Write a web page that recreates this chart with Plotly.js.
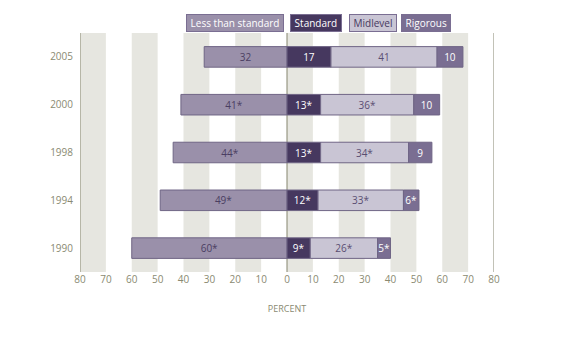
<!DOCTYPE html>
<html><head><meta charset="utf-8">
<script src="https://cdn.plot.ly/plotly-3.0.1.min.js"></script>
<style>html,body{margin:0;padding:0;background:#fff}#c{width:564px;height:339px}</style>
</head><body><div id="c"></div>
<script>
const years = ["1990","1994","1998","2000","2005"];
const lessVals = [60,49,44,41,32];
const lessLabels = ["60*","49*","44*","41*","32"];
const stdVals = [9,12,13,13,17];
const stdLabels = ["9*","12*","13*","13*","17"];
const midVals = [26,33,34,36,41];
const midLabels = ["26*","33*","34*","36*","41"];
const rigVals = [5,6,9,10,10];
const rigLabels = ["5*","6*","9","10","10"];
const tickVals = [-80,-70,-60,-50,-40,-30,-20,-10,0,10,20,30,40,50,60,70,80];
const tickText = ["80","70","60","50","40","30","20","10","0","10","20","30","40","50","60","70","80"];
const stripes = [[-80,-70],[-60,-50],[-40,-30],[-20,-10],[0,10],[20,30],[40,50],[60,70]];
const vLines = [-80,0,80];
const legendItems = [
  {name:"Less than standard", x:0.374, bg:"#9a90aa", fg:"#ffffff"},
  {name:"Standard", x:0.570, bg:"#46385f", fg:"#ffffff"},
  {name:"Midlevel", x:0.708, bg:"#c9c5d4", fg:"#46385f"},
  {name:"Rigorous", x:0.836, bg:"#7a6e92", fg:"#ffffff"}
];

const FONT = "Open Sans, Lato, sans-serif";
const lineC = "#6f6585";
function tr(vals, labels, color, tcolor, neg){
  return {type:"bar", orientation:"h", y:years, x: neg ? vals.map(v=>-v) : vals,
    text:labels, textposition:"inside", insidetextanchor:"middle",
    textfont:{family:FONT, size:10, color:tcolor},
    marker:{color:color, line:{color:lineC, width:1}},
    hoverinfo:"none", showlegend:false};
}
const data = [
  tr(lessVals, lessLabels, "#9a90aa", "#4a3e62", true),
  tr(stdVals, stdLabels, "#46385f", "#ffffff", false),
  tr(midVals, midLabels, "#c9c5d4", "#5a4e72", false),
  tr(rigVals, rigLabels, "#7a6e92", "#ffffff", false)
];
const shapes = stripes.map(s=>({type:"rect", xref:"x", yref:"paper", x0:s[0], x1:s[1], y0:0, y1:1,
  fillcolor:"#e6e6e0", line:{width:0}, layer:"below"}))
  .concat(vLines.map(v=>({type:"line", xref:"x", yref:"paper", x0:v, x1:v, y0:0, y1:1,
  line:{color:"#85856e", width:1}, layer:"below"})));
const annotations = legendItems.map(l=>({xref:"paper", yref:"paper", x:l.x, y:1.04,
  xanchor:"center", yanchor:"middle", text:"\u00a0"+l.name+"\u00a0", showarrow:false,
  font:{family:FONT, size:10, color:l.fg}, bgcolor:l.bg, bordercolor:"#7a6e92", borderwidth:1, borderpad:1}));
const layout = {
  width:564, height:339, margin:{l:80, r:70, t:33, b:67},
  paper_bgcolor:"#fff", plot_bgcolor:"rgba(0,0,0,0)",
  barmode:"relative", bargap:0.57,
  uniformtext:{mode:"show", minsize:10},
  font:{family:FONT, size:10, color:"#8a8a72"},
  xaxis:{range:[-80,80], tickvals:tickVals, ticktext:tickText, showgrid:false, zeroline:false,
    showline:false, ticks:"", tickfont:{size:10, color:"#8a8a72"}, fixedrange:true,
    title:{text:"PERCENT", font:{size:9, color:"#8a8a72"}, standoff:20}},
  yaxis:{type:"category", categoryorder:"array", categoryarray:years, showgrid:false, zeroline:false,
    showline:false, ticks:"", ticklabelstandoff:6, tickfont:{size:10, color:"#8a8a72"}, fixedrange:true},
  shapes:shapes, annotations:annotations
};
Plotly.newPlot("c", data, layout, {displayModeBar:false, staticPlot:true});
</script></body></html>
